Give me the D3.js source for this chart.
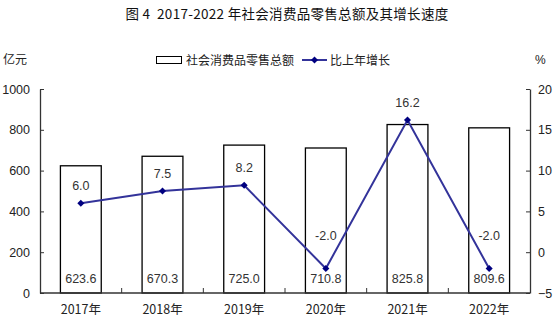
<!DOCTYPE html>
<html><head><meta charset="utf-8">
<script src="https://cdn.jsdelivr.net/npm/d3@7"></script>
<style>
body{margin:0;background:#fff;}
svg{display:block;}
text{font-family:"Liberation Sans",Arial,"Noto Sans CJK SC",sans-serif;}
.cjk{font-family:"Noto Sans CJK SC",sans-serif;}
</style></head>
<body><svg id="c" width="556" height="325"></svg>
<script>
const years = ["2017年","2018年","2019年","2020年","2021年","2022年"];
const sales = [623.6, 670.3, 725.0, 710.8, 825.8, 809.6];
const growth = [6.0, 7.5, 8.2, -2.0, 16.2, -2.0];
const leftTicks = [0, 200, 400, 600, 800, 1000];
const rightTicks = [-5, 0, 5, 10, 15, 20];
const title = "图 4  2017-2022 年社会消费品零售总额及其增长速度";
const legendBar = "社会消费品零售总额";
const legendLine = "比上年增长";

const svg = d3.select("#c");
const L = 40, R = 530, T = 89, B = 293;
const axisColor = "#333", textColor = "#222", lineColor = "#33339a", markColor = "#000080";

const x = d3.scaleBand().domain(years).range([L, R]).paddingInner(0.5).paddingOuter(0.25);
const yL = d3.scaleLinear().domain([0, 1000]).range([B, T]);
const yR = d3.scaleLinear().domain([-5, 20]).range([B, T]);

// title
svg.append("text").attr("class","cjk").attr("x", 287).attr("y", 19).attr("text-anchor","middle")
  .attr("font-size", 13.5).attr("letter-spacing", 0.3).attr("fill", "#111")
  .style("white-space", "pre").text(title);

// unit labels
svg.append("text").attr("class","cjk").attr("x", 3).attr("y", 64).attr("font-size", 12).attr("fill", textColor).text("亿元");
svg.append("text").attr("x", 535).attr("y", 64).attr("font-size", 12).attr("fill", textColor).text("%");

// legend
svg.append("rect").attr("x", 156.5).attr("y", 56.5).attr("width", 25).attr("height", 7)
  .attr("fill", "#fff").attr("stroke", "#000").attr("stroke-width", 1);
svg.append("text").attr("class","cjk").attr("x", 186).attr("y", 64.5).attr("font-size", 12).attr("fill", textColor).text(legendBar);
svg.append("line").attr("x1", 302).attr("x2", 327).attr("y1", 60).attr("y2", 60)
  .attr("stroke", lineColor).attr("stroke-width", 2);
svg.append("path").attr("d", d3.symbol(d3.symbolSquare, 25)()).attr("transform", "translate(314.5,60) rotate(45)")
  .attr("fill", markColor);
svg.append("text").attr("class","cjk").attr("x", 330).attr("y", 64.5).attr("font-size", 12).attr("fill", textColor).text(legendLine);

// bars
svg.append("g").selectAll("rect").data(years).join("rect")
  .attr("x", d => x(d)).attr("width", x.bandwidth())
  .attr("y", (d, i) => yL(sales[i])).attr("height", (d, i) => yL(0) - yL(sales[i]))
  .attr("fill", "#fff").attr("stroke", "#000").attr("stroke-width", 1.3);

// bar value labels
svg.append("g").selectAll("text").data(years).join("text")
  .attr("x", d => x(d) + x.bandwidth() / 2).attr("y", B - 10)
  .attr("text-anchor", "middle").attr("font-size", 12.5).attr("fill", "#333")
  .text((d, i) => sales[i].toFixed(1));

// left axis
const gl = svg.append("g").attr("transform", `translate(${L},0)`)
  .call(d3.axisLeft(yL).tickValues(leftTicks).tickSizeInner(-4).tickSizeOuter(0).tickPadding(10).tickFormat(d3.format("d")));
// right axis
const gr = svg.append("g").attr("transform", `translate(${R},0)`)
  .call(d3.axisRight(yR).tickValues(rightTicks).tickSizeInner(-4).tickSizeOuter(0).tickPadding(8).tickFormat(d3.format("d")));
// bottom axis (labels)
const gb = svg.append("g").attr("transform", `translate(0,${B})`)
  .call(d3.axisBottom(x).tickSize(0).tickPadding(12));
gb.selectAll("text").attr("class","cjk");
// category boundary ticks
const bounds = years.map(d => x(d) + x.bandwidth() / 2 + x.step() / 2).slice(0, -1);
gb.selectAll("line.bt").data(bounds).join("line").attr("class","bt")
  .attr("x1", d => d).attr("x2", d => d).attr("y1", 0).attr("y2", -5).attr("stroke", axisColor);

[gl, gr, gb].forEach(g => {
  g.selectAll(".domain").attr("stroke", axisColor).attr("stroke-width", 1.3);
  g.selectAll(".tick line").attr("stroke", axisColor);
  g.selectAll("text").attr("font-size", 12.5).attr("fill", textColor);
});
gb.selectAll(".domain").attr("d", `M${L},0H${R}`);

// line
const cx = d => x(d) + x.bandwidth() / 2;
svg.append("path").datum(years)
  .attr("d", d3.line().x(d => cx(d)).y((d, i) => yR(growth[i])))
  .attr("fill", "none").attr("stroke", lineColor).attr("stroke-width", 2);
svg.append("g").selectAll("path").data(years).join("path")
  .attr("d", d3.symbol(d3.symbolSquare, 25)())
  .attr("transform", (d, i) => `translate(${cx(d)},${yR(growth[i])}) rotate(45)`)
  .attr("fill", markColor);
// growth labels
svg.append("g").selectAll("text").data(years).join("text")
  .attr("x", d => cx(d)).attr("y", (d, i) => yR(growth[i]) - (growth[i] < 0 ? 33 : 18) + 4.5)
  .attr("text-anchor", "middle").attr("font-size", 12.5).attr("fill", "#333")
  .text((d, i) => growth[i].toFixed(1));
</script></body></html>
